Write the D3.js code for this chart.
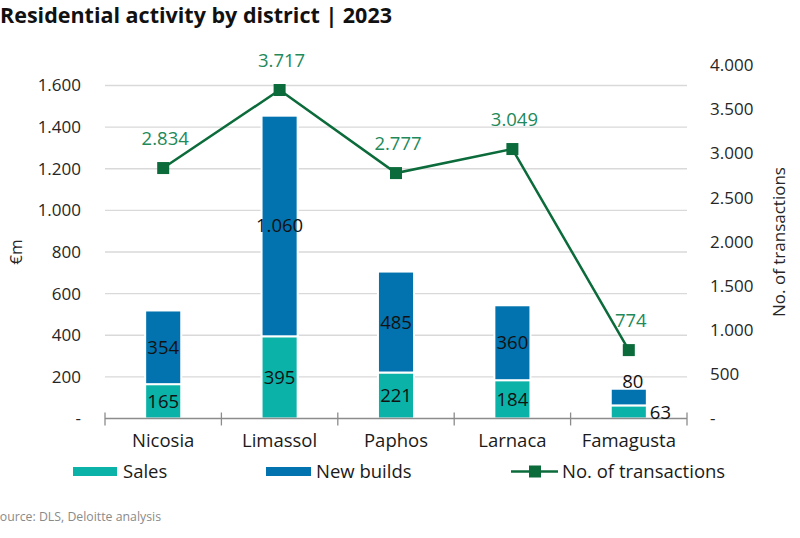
<!DOCTYPE html>
<html>
<head>
<meta charset="utf-8">
<script src="https://cdn.jsdelivr.net/npm/d3@7"></script>
<style>
  html, body { margin: 0; padding: 0; background: #fff; }
  svg { display: block; font-family: "Open Sans", sans-serif; }
</style>
</head>
<body>
<svg id="chart" width="800" height="538"></svg>
<script>
const categories = ["Nicosia", "Limassol", "Paphos", "Larnaca", "Famagusta"];
const sales = [165, 395, 221, 184, 63];
const newBuilds = [354, 1060, 485, 360, 80];
const transactions = [2834, 3717, 2777, 3049, 774];
const leftTicks = [0, 200, 400, 600, 800, 1000, 1200, 1400, 1600];
const rightTicks = [0, 500, 1000, 1500, 2000, 2500, 3000, 3500, 4000];

const colSales = "#0BB2A7";
const colNew = "#0273AF";
const colLine = "#0B6B3A";
const colLineLbl = "#22895A";
const colText = "#262626";

const loc = d3.formatLocale({decimal: ",", thousands: ".", grouping: [3], currency: ["€", ""]});
const fmt = v => v === 0 ? "-" : loc.format(",d")(v);

const svg = d3.select("#chart");

const x = d3.scaleBand().domain(categories).range([105, 687]).paddingInner(0).paddingOuter(0);
const yL = d3.scaleLinear().domain([0, 1600]).range([418.5, 85.5]);
const yR = d3.scaleLinear().domain([0, 4000]).range([418.5, 65]);
const barW = x.bandwidth() * 0.31;

// title
svg.append("text").attr("x", 392).attr("y", 23).attr("text-anchor", "end")
  .attr("font-size", 21.5).attr("font-weight", 700).attr("fill", "#111")
  .text("Residential activity by district | 2023");

// gridlines
svg.append("g").selectAll("line").data(leftTicks.filter(d => d > 0)).join("line")
  .attr("x1", 105).attr("x2", 687)
  .attr("y1", d => yL(d)).attr("y2", d => yL(d))
  .attr("stroke", "#d9d9d9").attr("stroke-width", 1.3);

// left tick labels
svg.append("g").selectAll("text").data(leftTicks).join("text")
  .attr("x", 81).attr("y", d => yL(d)).attr("dy", "0.35em")
  .attr("text-anchor", "end").attr("font-size", 17).attr("fill", colText)
  .text(fmt);

// right tick labels
svg.append("g").selectAll("text").data(rightTicks).join("text")
  .attr("x", 710).attr("y", d => yR(d)).attr("dy", "0.35em")
  .attr("text-anchor", "start").attr("font-size", 17).attr("fill", colText)
  .text(fmt);

// axis titles
svg.append("text").attr("transform", "translate(22,252) rotate(-90)")
  .attr("text-anchor", "middle").attr("font-size", 17).attr("fill", colText).text("€m");
svg.append("text").attr("transform", "translate(785,242) rotate(-90)")
  .attr("text-anchor", "middle").attr("font-size", 17).attr("fill", colText).text("No. of transactions");

// bars
const stackData = categories.map((c, i) => ({c, s: sales[i], n: newBuilds[i]}));
const gBars = svg.append("g");
stackData.forEach(d => {
  const cx = x(d.c) + x.bandwidth() / 2;
  gBars.append("rect").attr("x", cx - barW / 2).attr("width", barW)
    .attr("y", yL(d.s)).attr("height", yL(0) - yL(d.s))
    .attr("fill", colSales).attr("stroke", "#fff").attr("stroke-width", 2);
  gBars.append("rect").attr("x", cx - barW / 2).attr("width", barW)
    .attr("y", yL(d.s + d.n)).attr("height", yL(d.s) - yL(d.s + d.n))
    .attr("fill", colNew).attr("stroke", "#fff").attr("stroke-width", 2);
});

// baseline axis with ticks
svg.append("line").attr("x1", 105).attr("x2", 687).attr("y1", yL(0)).attr("y2", yL(0))
  .attr("stroke", "#8c8c8c").attr("stroke-width", 1.3);
const bounds = categories.map(c => x(c)).concat([x(categories[categories.length - 1]) + x.bandwidth()]);
svg.append("g").selectAll("line").data(bounds).join("line")
  .attr("x1", d => d).attr("x2", d => d)
  .attr("y1", yL(0) - 6).attr("y2", yL(0) + 7)
  .attr("stroke", "#8c8c8c").attr("stroke-width", 1.3);

// category labels
svg.append("g").selectAll("text").data(categories).join("text")
  .attr("x", d => x(d) + x.bandwidth() / 2).attr("y", 447)
  .attr("text-anchor", "middle").attr("font-size", 18.5).attr("fill", "#1a1a1a").text(d => d);

// bar value labels
const gLbl = svg.append("g").attr("font-size", 18.5).attr("fill", "#111");
stackData.forEach(d => {
  const cx = x(d.c) + x.bandwidth() / 2;
  const hS = yL(0) - yL(d.s);
  const hN = yL(d.s) - yL(d.s + d.n);
  if (hS >= 20) {
    gLbl.append("text").attr("x", cx).attr("y", (yL(0) + yL(d.s)) / 2).attr("dy", "0.35em")
      .attr("text-anchor", "middle").text(fmt(d.s));
  } else {
    gLbl.append("text").attr("x", cx + barW / 2 + 3).attr("y", (yL(0) + yL(d.s)) / 2 + 1).attr("dy", "0.35em")
      .attr("text-anchor", "start").text(fmt(d.s));
  }
  if (hN >= 20) {
    gLbl.append("text").attr("x", cx).attr("y", (yL(d.s) + yL(d.s + d.n)) / 2).attr("dy", "0.35em")
      .attr("text-anchor", "middle").text(fmt(d.n));
  } else {
    gLbl.append("text").attr("x", cx + 4).attr("y", yL(d.s + d.n) - 7).attr("dy", "0.35em")
      .attr("text-anchor", "middle").text(fmt(d.n));
  }
});

// line
const lineData = categories.map((c, i) => ({c, v: transactions[i]}));
const line = d3.line().x(d => x(d.c) + x.bandwidth() / 2).y(d => yR(d.v));
svg.append("path").datum(lineData).attr("d", line)
  .attr("fill", "none").attr("stroke", colLine).attr("stroke-width", 2.5);
const ms = 12;
svg.append("g").selectAll("rect").data(lineData).join("rect")
  .attr("x", d => x(d.c) + x.bandwidth() / 2 - ms / 2).attr("y", d => yR(d.v) - ms / 2)
  .attr("width", ms).attr("height", ms).attr("fill", colLine);
svg.append("g").selectAll("text").data(lineData).join("text")
  .attr("x", d => x(d.c) + x.bandwidth() / 2 + 2).attr("y", d => yR(d.v) - 23)
  .attr("text-anchor", "middle").attr("font-size", 18.5).attr("fill", colLineLbl)
  .text(d => fmt(d.v));

// legend
const lg = svg.append("g");
lg.append("rect").attr("x", 73).attr("y", 467).attr("width", 44).attr("height", 9).attr("fill", colSales);
lg.append("text").attr("x", 123).attr("y", 478).attr("font-size", 18.5).attr("fill", "#1a1a1a").text("Sales");
lg.append("rect").attr("x", 266).attr("y", 467).attr("width", 45).attr("height", 9).attr("fill", colNew);
lg.append("text").attr("x", 316).attr("y", 478).attr("font-size", 18.5).attr("fill", "#1a1a1a").text("New builds");
lg.append("line").attr("x1", 511).attr("x2", 558).attr("y1", 471.5).attr("y2", 471.5)
  .attr("stroke", colLine).attr("stroke-width", 2.5);
lg.append("rect").attr("x", 529).attr("y", 465.5).attr("width", 12).attr("height", 12).attr("fill", colLine);
lg.append("text").attr("x", 562).attr("y", 478).attr("font-size", 18.5).attr("fill", "#1a1a1a").text("No. of transactions");

// source
svg.append("text").attr("x", 161).attr("y", 521).attr("text-anchor", "end")
  .attr("font-size", 12.3).attr("fill", "#8a8a8a").text("Source: DLS, Deloitte analysis");
</script>
</body>
</html>
